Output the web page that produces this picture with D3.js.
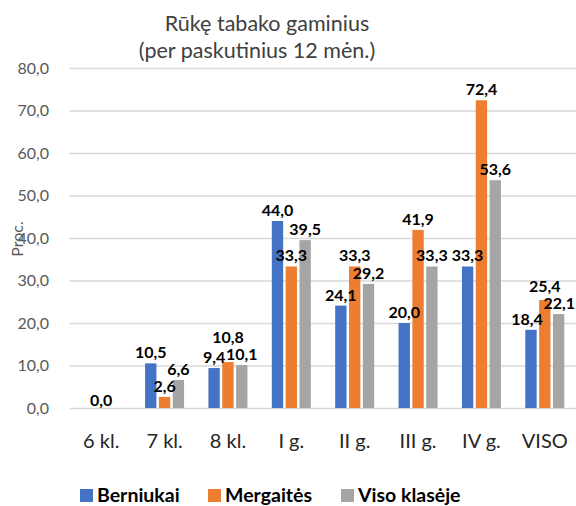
<!DOCTYPE html>
<html>
<head>
<meta charset="utf-8">
<script src="https://cdn.jsdelivr.net/npm/d3@7"></script>
<style>
  body { margin: 0; background: #fff; }
  svg { display: block; font-family: Lato, "Open Sans", sans-serif; }
</style>
</head>
<body>
<svg id="chart"></svg>
<script>
const categories = ['6 kl.', '7 kl.', '8 kl.', 'I g.', 'II g.', 'III g.', 'IV g.', 'VISO'];
const seriesNames = ['Berniukai', 'Mergaitės', 'Viso klasėje'];
const berniukai = [null, 10.5, 9.4, 44.0, 24.1, 20.0, 33.3, 18.4];
const mergaites = [0.0, 2.6, 10.8, 33.3, 33.3, 41.9, 72.4, 25.4];
const visoKlaseje = [null, 6.6, 10.1, 39.5, 29.2, 33.3, 53.6, 22.1];
const yTicks = [0, 10, 20, 30, 40, 50, 60, 70, 80];
const colors = ['#4472C4', '#ED7D31', '#A5A5A5'];

const W = 576, H = 506;
const plotL = 69.5, plotR = 576.5, plotT = 68, plotB = 408;

const svg = d3.select('#chart').attr('width', W).attr('height', H);

const fmt = d3.formatLocale({decimal: ',', thousands: ' ', grouping: [3], currency: ['', '']}).format('.1f');

const values = [berniukai, mergaites, visoKlaseje];
const rows = categories.map((c, i) => ({
  cat: c,
  vals: seriesNames.map((s, j) => ({series: s, idx: j, value: values[j][i]}))
}));

const x0 = d3.scaleBand().domain(categories).range([plotL, plotR]).padding(0);
const groupW = 39;
const x1 = d3.scaleBand().domain(seriesNames)
  .range([(x0.bandwidth() - groupW) / 2, (x0.bandwidth() + groupW) / 2])
  .paddingInner(0.18);
const y = d3.scaleLinear().domain([0, 80]).range([plotB, plotT]);

// grid
svg.append('g')
  .attr('transform', `translate(${plotL},0)`)
  .call(d3.axisLeft(y).tickValues(yTicks).tickSize(-(plotR - plotL)).tickFormat(''))
  .call(g => g.select('.domain').remove())
  .call(g => g.selectAll('line').attr('stroke', '#d9d9d9').attr('stroke-width', 1.3));

// y tick labels
svg.append('g')
  .selectAll('text')
  .data(yTicks)
  .join('text')
  .attr('x', 49)
  .attr('y', d => y(d))
  .attr('dy', '0.35em')
  .attr('text-anchor', 'end')
  .attr('font-size', 16)
  .attr('fill', '#595959')
  .text(d => fmt(d));

// x axis labels
svg.append('g')
  .attr('transform', `translate(0,${plotB})`)
  .call(d3.axisBottom(x0).tickSize(0).tickPadding(0))
  .call(g => g.select('.domain').remove())
  .call(g => g.selectAll('text')
    .attr('y', 40)
    .attr('dy', 0)
    .attr('font-size', 20)
    .attr('font-family', 'Lato, sans-serif')
    .attr('fill', '#262626'));

// bars
const groups = svg.append('g')
  .selectAll('g')
  .data(rows)
  .join('g')
  .attr('transform', d => `translate(${x0(d.cat)},0)`);

groups.selectAll('rect')
  .data(d => d.vals.filter(v => v.value !== null))
  .join('rect')
  .attr('x', d => x1(d.series))
  .attr('y', d => y(d.value))
  .attr('width', x1.bandwidth())
  .attr('height', d => y(0) - y(d.value))
  .attr('fill', d => colors[d.idx]);

// value labels
groups.selectAll('text')
  .data(d => d.vals.filter(v => v.value !== null))
  .join('text')
  .attr('x', d => x1(d.series) + x1.bandwidth() / 2)
  .attr('y', d => y(d.value) - (d.value === 0 ? 2 : 5))
  .attr('text-anchor', 'middle')
  .attr('font-size', 16)
  .attr('font-weight', 'bold')
  .attr('fill', '#000')
  .text(d => fmt(d.value));

// keep labels in one group from sitting on top of each other
groups.each(function(row) {
  const offX = x0(row.cat);
  const items = [];
  d3.select(this).selectAll('text').each(function(d) {
    const w = this.getComputedTextLength();
    items[d.idx] = {node: this, cx: +this.getAttribute('x'), base: +this.getAttribute('y'), w: w};
  });
  const box = it => ({l: it.cx - it.w / 2, r: it.cx + it.w / 2, t: it.base - 13, b: it.base + 4});
  const hit = (a, b) => {
    const A = box(a), B = box(b);
    return A.l < B.r && B.l < A.r && A.t < B.b && B.t < A.b;
  };
  const mid = items[1];
  if (mid) {
    [items[0], items[2]].forEach(s => {
      if (s && hit(mid, s)) mid.base = Math.min(mid.base, s.base - 17);
    });
  }
  const gap = 4;
  if (items[0] && items[2] && hit(items[0], items[2])) {
    const over = (items[0].cx + items[0].w / 2) - (items[2].cx - items[2].w / 2) + gap;
    items[0].cx -= over / 2;
    items[2].cx += over / 2;
  }
  items.forEach(it => {
    if (!it) return;
    const maxCx = W - 1 - offX - it.w / 2;
    if (it.cx > maxCx) it.cx = maxCx;
    d3.select(it.node).attr('x', it.cx).attr('y', it.base);
  });
});

// title
svg.append('text')
  .attr('x', 267).attr('y', 31)
  .attr('text-anchor', 'middle')
  .attr('font-size', 21.5)
  .attr('fill', '#404040')
  .text('Rūkę tabako gaminius');
svg.append('text')
  .attr('x', 257).attr('y', 58)
  .attr('text-anchor', 'middle')
  .attr('font-size', 21.5)
  .attr('fill', '#404040')
  .text('(per paskutinius 12 mėn.)');

// y axis title
svg.append('text')
  .attr('transform', 'translate(23,239) rotate(-90)')
  .attr('text-anchor', 'middle')
  .attr('font-size', 16)
  .attr('fill', '#595959')
  .text('Proc.');

// legend
const legendX = [80, 208, 341];
const legend = svg.append('g')
  .selectAll('g')
  .data(seriesNames)
  .join('g')
  .attr('transform', (d, i) => `translate(${legendX[i]},489)`);
legend.append('rect')
  .attr('width', 13).attr('height', 13)
  .attr('fill', (d, i) => colors[i]);
legend.append('text')
  .attr('x', 17).attr('y', 13)
  .attr('font-size', 19.5)
  .attr('font-weight', 'bold')
  .attr('fill', '#000')
  .text(d => d);
</script>
</body>
</html>
